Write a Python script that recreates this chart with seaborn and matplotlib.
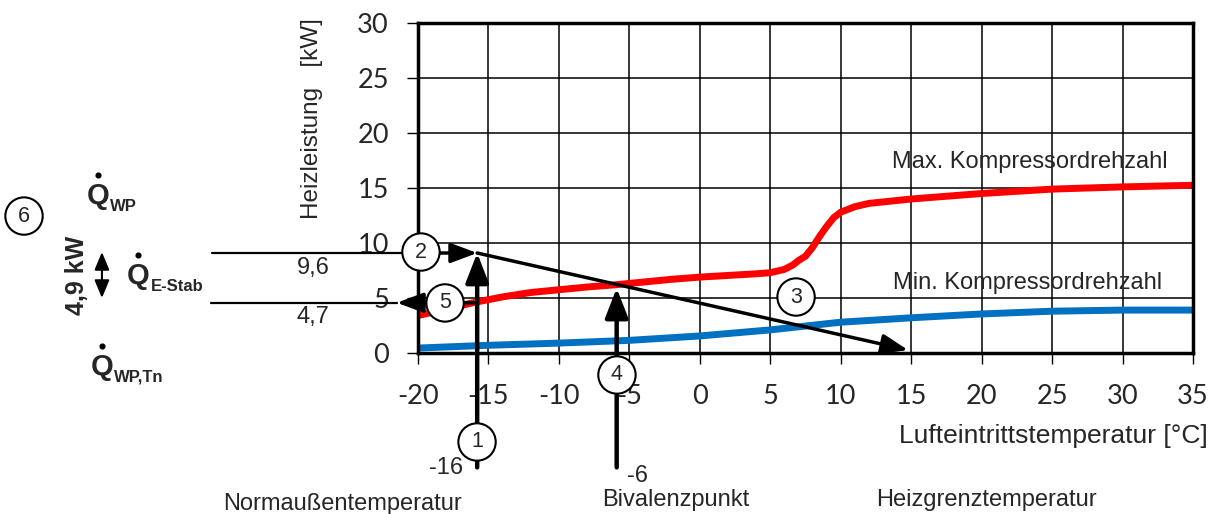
import numpy as np
import pandas as pd
import matplotlib
matplotlib.use("Agg")
import matplotlib.pyplot as plt
import seaborn as sns

# heating power curves
temp_max = [-20, -18, -16, -14, -12, -10, -8, -6, -4, -2, 0, 2, 4, 5, 6, 6.6, 7, 7.5, 8, 8.5, 9, 9.5, 10, 11, 12, 15, 20, 25, 30, 35]
power_max = [3.4, 4.0, 4.6, 5.1, 5.5, 5.75, 6.0, 6.2, 6.45, 6.7, 6.9, 7.05, 7.2, 7.3, 7.6, 8.0, 8.4, 8.8, 9.6, 10.6, 11.5, 12.3, 12.8, 13.3, 13.6, 14.0, 14.5, 14.9, 15.1, 15.25]
temp_min = [-20, -15, -10, -5, 0, 5, 10, 15, 20, 25, 30, 35]
power_min = [0.45, 0.7, 0.9, 1.15, 1.55, 2.1, 2.8, 3.2, 3.55, 3.8, 3.9, 3.9]

x_ticks = [-20, -15, -10, -5, 0, 5, 10, 15, 20, 25, 30, 35]
y_ticks = [0, 5, 10, 15, 20, 25, 30]

# design points
t_norm = -15.8      # Normaussentemperatur
t_biv = -5.9        # Bivalenzpunkt
q_wp = 9.09         # 9,6 line
q_tn = 4.57         # 4,7 line
t_grenz = 14.78     # Heizgrenztemperatur
q_grenz = 0.27
q_biv = 5.9

sns.set_theme(style="white")
plt.rcParams["font.family"] = ["Liberation Sans", "DejaVu Sans"]
plt.rcParams["axes.unicode_minus"] = False

df_max = pd.DataFrame({"t": temp_max, "q": power_max})
df_min = pd.DataFrame({"t": temp_min, "q": power_min})

fig = plt.figure(figsize=(12.12, 5.14), dpi=100)
ax = fig.add_axes([418 / 1212, 161 / 514, 775 / 1212, 330 / 514])

sns.lineplot(data=df_max, x="t", y="q", color="#ff0000", lw=5, ax=ax, zorder=3,
             solid_capstyle="butt", solid_joinstyle="round")
sns.lineplot(data=df_min, x="t", y="q", color="#0070c0", lw=5, ax=ax, zorder=3,
             solid_capstyle="butt", solid_joinstyle="round")

ax.set_xlim(-20, 35)
ax.set_ylim(0, 30)
ax.set_xticks(x_ticks)
ax.set_yticks(y_ticks)
ax.grid(True, color="black", lw=1.1)
ax.set_axisbelow(True)
for s in ax.spines.values():
    s.set_color("black")
    s.set_linewidth(2.5)
    s.set_zorder(5)
ax.tick_params(axis="both", direction="out", length=8, width=1, color="black",
               labelsize=19.5, bottom=True, left=True)
ax.tick_params(axis="x", pad=14.5)
ax.tick_params(axis="y", pad=13)
plt.setp(ax.get_xticklabels(), family="Lato")
plt.setp(ax.get_yticklabels(), family="Lato")

ax.set_ylabel("Heizleistung   [kW]", fontsize=17.5)
ax.yaxis.set_label_coords(-0.1226, 0.709)
ax.set_xlabel("Lufteintrittstemperatur [°C]", fontsize=19, ha="right", va="top")
ax.xaxis.set_label_coords(1.019, -0.215)

ax.text(13.64, 17.36, "Max. Kompressordrehzahl", fontsize=17, va="center")
ax.text(13.71, 6.36, "Min. Kompressordrehzahl", fontsize=17, va="center")


def arrow(x0, y0, x1, y1, lw=2.5, ms=20, hl=0.8, hw=0.3):
    ax.annotate("", xy=(x1, y1), xytext=(x0, y0), annotation_clip=False, zorder=6,
                arrowprops=dict(arrowstyle=f"-|>,head_length={hl},head_width={hw}",
                                color="black", lw=lw, mutation_scale=ms,
                                shrinkA=0, shrinkB=0))


def thin(xs, ys):
    ax.plot(xs, ys, color="black", lw=1.6, clip_on=False, zorder=6)


# horizontal lines to the left
thin([-34.6, -20], [q_wp, q_wp])
thin([-34.7, -21.5], [q_tn, q_tn])
arrow(-20, q_wp, t_norm, q_wp)
arrow(t_norm, q_tn, -21.5, q_tn)
# diagonal
arrow(t_norm, q_wp, t_grenz, q_grenz)
# vertical arrows
arrow(t_norm, -10.4, t_norm, q_wp, lw=3.2, hl=0.9, hw=0.35)
arrow(t_biv, -10.4, t_biv, q_biv, lw=3.2, hl=0.9, hw=0.35)


def circle(x, y, s):
    ax.text(x, y, s, ha="center", va="center", fontsize=15.5, zorder=10,
            bbox=dict(boxstyle="circle,pad=0.38", fc="white", ec="black", lw=1.5))


circle(-15.81, -8.09, "1")
circle(-19.79, 9.18, "2")
circle(6.83, 5.09, "3")
circle(-5.88, -2.0, "4")
circle(-18.08, 4.55, "5")
circle(-47.96, 12.45, "6")

ax.text(-27.45, 7.73, "9,6", fontsize=17, ha="center", va="center")
ax.text(-27.45, 3.27, "4,7", fontsize=17, ha="center", va="center")
ax.text(-16.8, -10.45, "-16", fontsize=17, ha="right", va="center")
ax.text(-5.17, -11.2, "-6", fontsize=17, ha="left", va="center")
ax.text(-33.83, -13.75, "Normaußentemperatur", fontsize=17, ha="left", va="center")
ax.text(-6.9, -13.4, "Bivalenzpunkt", fontsize=17, ha="left", va="center")
ax.text(12.5, -13.4, "Heizgrenztemperatur", fontsize=17, ha="left", va="center")


def qdot(x, y, sub):
    ax.text(x, y - 0.3, "Q", fontsize=21, fontweight="bold", ha="center", va="center")
    ax.plot([x], [y + 1.6], marker="o", ms=3.4, color="black", clip_on=False)
    ax.text(x + 0.88, y - 1.2, sub, fontsize=12, fontweight="bold", ha="left", va="center")


qdot(-42.71, 14.55, "WP")
qdot(-39.87, 7.27, "E-Stab")
qdot(-42.43, -1.0, "WP,Tn")

ax.text(-44.2, 7.09, "4,9 kW", fontsize=18, fontweight="bold", rotation=90,
        ha="center", va="center")
ax.annotate("", xy=(-42.43, 5.0), xytext=(-42.43, 9.18), annotation_clip=False,
            arrowprops=dict(arrowstyle="<|-|>,head_length=0.6,head_width=0.25",
                            color="black", lw=1.5, mutation_scale=18,
                            shrinkA=0, shrinkB=0))

fig.savefig("out.png", dpi=100)
